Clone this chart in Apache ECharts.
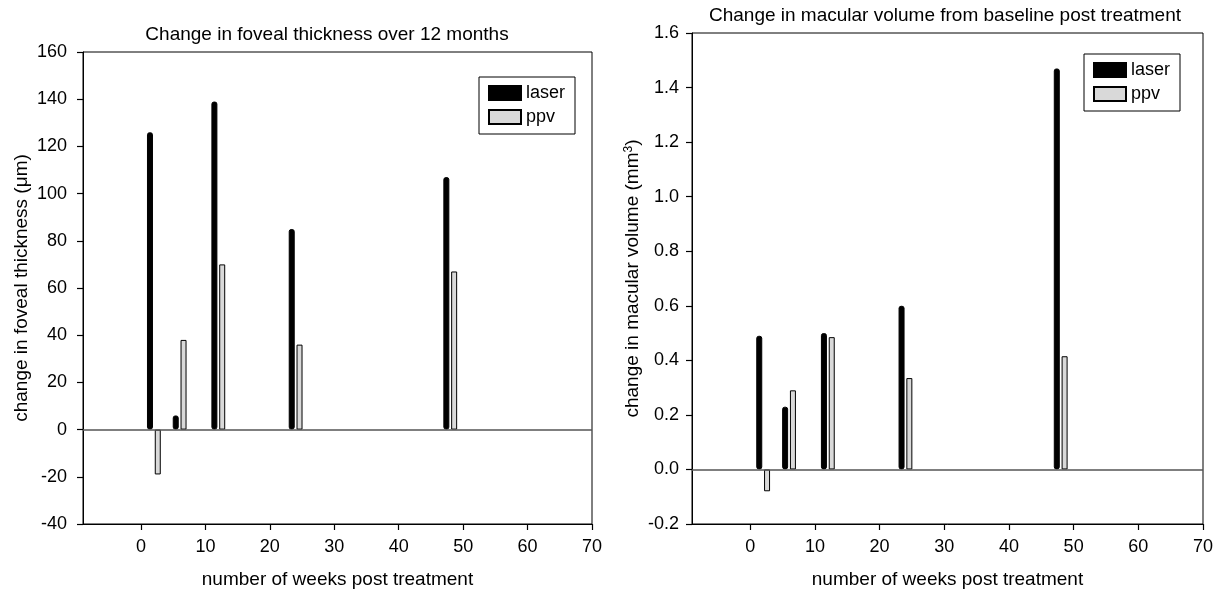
<!DOCTYPE html>
<html>
<head>
<meta charset="utf-8">
<script src="https://cdn.jsdelivr.net/npm/echarts@6/dist/echarts.min.js"></script>
<style>
  html, body { margin: 0; padding: 0; background: #fff; }
  #main { width: 1220px; height: 594px; }
</style>
</head>
<body>
<div id="main"></div>
<script>
// weeks after treatment (group centres)
var weeks = [2, 6, 12, 24, 48];
// foveal thickness change (um)
var laserThick = [126, 6, 139, 85, 107];
var ppvThick = [-19, 38, 70, 36, 67];
// macular volume change (mm3)
var laserVol = [0.49, 0.23, 0.50, 0.60, 1.47];
var ppvVol = [-0.08, 0.29, 0.485, 0.335, 0.415];
// x tick labels
var weekTicks = [0, 10, 20, 30, 40, 50, 60, 70];

var FONT = "'Liberation Sans', Arial, Helvetica, sans-serif";

function pairs(xs, ys) {
	var out = [];
	for (var i = 0; i < xs.length; i++) {
		out.push([xs[i], ys[i]]);
	}
	return out;
}

var zeroLine = {
	silent: true,
	symbol: 'none',
	label: { show: false },
	lineStyle: { color: '#555', width: 1.5, type: 'solid' },
	data: [{ yAxis: 0 }]
};

var tickStyle = { show: true, inside: false, length: 6, lineStyle: { color: '#000', width: 1.2, opacity: 1 } };

function xAxisFor(idx) {
	return {
		type: 'value',
		gridIndex: idx,
		min: -9,
		max: 70,
		name: 'number of weeks post treatment',
		nameLocation: 'middle',
		nameGap: 46,
		nameTextStyle: { color: '#000', fontSize: 19, fontFamily: FONT },
		splitLine: { show: false },
		axisLine: { show: true, onZero: false, lineStyle: { color: '#000', width: 1 } },
		axisTick: Object.assign({ customValues: weekTicks }, tickStyle),
		axisLabel: { customValues: weekTicks, margin: 14, color: '#000', fontSize: 18, fontFamily: FONT }
	};
}

var chart = echarts.init(document.getElementById('main'));
var option = {
	backgroundColor: '#fff',
	animation: false,
	title: [
		{
			text: 'Change in foveal thickness over 12 months',
			left: 322, top: 20, textAlign: 'center',
			textStyle: { color: '#000', fontSize: 19, fontWeight: 'normal', fontFamily: FONT }
		},
		{
			text: 'Change in macular volume from baseline post treatment',
			left: 940, top: 1, textAlign: 'center',
			textStyle: { color: '#000', fontSize: 19, fontWeight: 'normal', fontFamily: FONT }
		}
	],
	legend: [
		{
			data: ['laser', 'ppv'],
			orient: 'vertical',
			left: 479, top: 77,
			padding: [7, 10, 8, 9],
			itemWidth: 32, itemHeight: 14, itemGap: 6,
			icon: 'rect',
			borderColor: '#000', borderWidth: 1,
			textStyle: { color: '#000', fontSize: 18, fontFamily: FONT }
		},
		{
			data: ['laser', 'ppv'],
			orient: 'vertical',
			left: 1084, top: 54,
			padding: [7, 10, 8, 9],
			itemWidth: 32, itemHeight: 14, itemGap: 6,
			icon: 'rect',
			borderColor: '#000', borderWidth: 1,
			textStyle: { color: '#000', fontSize: 18, fontFamily: FONT }
		}
	],
	grid: [
		{ left: 83, top: 52, width: 509, height: 475, show: true, borderColor: '#000', borderWidth: 1 },
		{ left: 692, top: 33, width: 511, height: 493, show: true, borderColor: '#000', borderWidth: 1 }
	],
	xAxis: [xAxisFor(0), xAxisFor(1)],
	yAxis: [
		{
			type: 'value', gridIndex: 0,
			min: -40, max: 160, interval: 20,
			name: 'change in foveal thickness (\u03bcm)',
			nameLocation: 'middle', nameGap: 52,
			nameTextStyle: { color: '#000', fontSize: 19, fontFamily: FONT },
			splitLine: { show: false },
			axisLine: { show: true, onZero: false, lineStyle: { color: '#000', width: 1 } },
			axisTick: tickStyle,
			axisLabel: { margin: 16, color: '#000', fontSize: 18, fontFamily: FONT }
		},
		{
			type: 'value', gridIndex: 1,
			min: -0.2, max: 1.6, interval: 0.2,
			name: 'change in macular volume (mm{sup|3})',
			nameLocation: 'middle', nameGap: 49,
			nameTextStyle: {
				color: '#000', fontSize: 19, fontFamily: FONT,
				rich: { sup: { fontSize: 12, verticalAlign: 'top', padding: [0, 0, 8, 0], fontFamily: FONT, color: '#000' } }
			},
			splitLine: { show: false },
			axisLine: { show: true, onZero: false, lineStyle: { color: '#000', width: 1 } },
			axisTick: tickStyle,
			axisLabel: {
				margin: 13, color: '#000', fontSize: 18, fontFamily: FONT,
				formatter: function (v) { return v.toFixed(1); }
			}
		}
	],
	series: [
		{
			name: 'laser', type: 'bar', xAxisIndex: 0, yAxisIndex: 0,
			barWidth: 6, barGap: '30%',
			itemStyle: { color: '#000', borderColor: '#000', borderWidth: 1, borderRadius: 2 },
			data: pairs(weeks, laserThick),
			markLine: zeroLine
		},
		{
			name: 'ppv', type: 'bar', xAxisIndex: 0, yAxisIndex: 0,
			barWidth: 6, barGap: '30%',
			itemStyle: { color: '#d9d9d9', borderColor: '#000', borderWidth: 1 },
			data: pairs(weeks, ppvThick)
		},
		{
			name: 'laser', type: 'bar', xAxisIndex: 1, yAxisIndex: 1,
			barWidth: 6, barGap: '30%',
			itemStyle: { color: '#000', borderColor: '#000', borderWidth: 1, borderRadius: 2 },
			data: pairs(weeks, laserVol),
			markLine: zeroLine
		},
		{
			name: 'ppv', type: 'bar', xAxisIndex: 1, yAxisIndex: 1,
			barWidth: 6, barGap: '30%',
			itemStyle: { color: '#d9d9d9', borderColor: '#000', borderWidth: 1 },
			data: pairs(weeks, ppvVol)
		}
	]
};
chart.setOption(option);
</script>
</body>
</html>
